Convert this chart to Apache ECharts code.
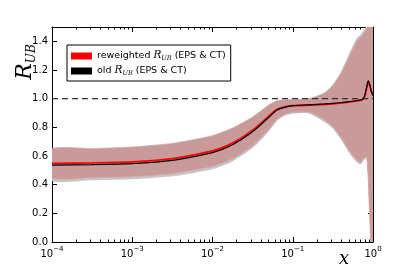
<!DOCTYPE html>
<html>
<head>
<meta charset="utf-8">
<script src="https://cdn.jsdelivr.net/npm/echarts@6/dist/echarts.min.js"></script>
<style>html,body{margin:0;padding:0;background:#fff;}#c{width:415px;height:277px;}</style>
</head>
<body>
<div id="c"></div>
<script>
// x positions (values of x on log axis)
const xVals = [1e-4, 3.162e-4, 1e-3, 3.162e-3, 1e-2, 1.778e-2, 3.162e-2, 5.012e-2, 6.310e-2, 7.943e-2,
  0.1, 0.1585, 0.2512, 0.3162, 0.3981, 0.5012, 0.6310, 0.7079, 0.7586, 0.7943, 0.8318, 0.8710, 0.9120, 0.9550, 1.0];
// old R_UB (black) central
const oldCentral = [0.537, 0.540, 0.547, 0.569, 0.624, 0.679, 0.769, 0.869, 0.919, 0.939,
  0.951, 0.957, 0.963, 0.967, 0.973, 0.979, 0.987, 0.992, 1.000, 1.030, 1.080, 1.125, 1.100, 1.050, 1.020];
// reweighted R_UB (red) central
const rewCentral = [0.549, 0.552, 0.559, 0.581, 0.635, 0.690, 0.779, 0.877, 0.924, 0.942,
  0.951, 0.955, 0.960, 0.964, 0.970, 0.976, 0.985, 0.990, 0.996, 1.020, 1.070, 1.115, 1.090, 1.050, 1.030];
// reweighted band
const rewUpper = [0.648, 0.652, 0.663, 0.688, 0.742, 0.795, 0.872, 0.955, 0.985, 0.992,
  0.995, 1.000, 1.040, 1.090, 1.175, 1.290, 1.405, 1.430, 1.455, 1.470, 1.490, 1.520, 1.650, 1.800, 2.000];
const rewLower = [0.447, 0.449, 0.456, 0.477, 0.527, 0.580, 0.672, 0.785, 0.855, 0.890,
  0.905, 0.905, 0.850, 0.805, 0.730, 0.640, 0.570, 0.555, 0.580, 0.590, 0.595, 0.450, 0.150, -0.100, -0.400];
// old band
const oldUpper = [0.645, 0.649, 0.660, 0.685, 0.738, 0.790, 0.868, 0.950, 0.980, 0.990,
  0.993, 0.998, 1.045, 1.100, 1.190, 1.310, 1.425, 1.450, 1.475, 1.490, 1.510, 1.540, 1.650, 1.800, 2.000];
const oldLower = [0.428, 0.430, 0.437, 0.458, 0.508, 0.562, 0.655, 0.770, 0.843, 0.880,
  0.895, 0.897, 0.835, 0.790, 0.715, 0.625, 0.555, 0.542, 0.566, 0.578, 0.585, 0.440, 0.140, -0.100, -0.400];
// ticks
const xMajorTicks = [1e-4, 1e-3, 1e-2, 1e-1, 1];
const xMinorTicks = [];
[1e-4, 1e-3, 1e-2, 1e-1].forEach(d => { for (let k = 2; k <= 9; k++) xMinorTicks.push(+(d * k).toPrecision(3)); });
const yMin = 0, yMax = 1.5, yStep = 0.2;

const pairs = arr => arr.map((v, i) => [xVals[i], v]);

const chart = echarts.init(document.getElementById('c'), null, {renderer: 'canvas'});
const font = 'DejaVu Sans';
const serif = 'DejaVu Serif';

function bandSeries(name, upper, lower, fill, edge, z) {
  return {
    name: name, type: 'custom', clip: true, silent: true, z: z,
    data: [[xVals[0], lower[0]]],
    encode: {x: 0, y: 1},
    renderItem: (params, api) => {
      const pts = [];
      for (let i = 0; i < xVals.length; i++) pts.push(api.coord([xVals[i], upper[i]]));
      for (let i = xVals.length - 1; i >= 0; i--) pts.push(api.coord([xVals[i], lower[i]]));
      return {type: 'polygon', shape: {points: pts, smooth: 0.2},
        style: {fill: fill, stroke: edge, lineWidth: edge ? 0.8 : 0}};
    }
  };
}

function xAxisCommon(pos, major) {
  return {
    type: 'log', logBase: 10, min: 1e-4, max: 1, position: pos, gridIndex: 0,
    axisLine: {show: major, lineStyle: {color: '#000', width: 1}},
    axisTick: {show: true, inside: true, length: major ? 5 : 2.5,
      lineStyle: {color: '#000', width: 1}, customValues: major ? xMajorTicks : xMinorTicks},
    axisLabel: {show: false},
    splitLine: {show: false}, minorTick: {show: false}
  };
}
const xMain = xAxisCommon('bottom', true);
xMain.axisLabel = {
  show: true, customValues: xMajorTicks, margin: 4, color: '#000',
  formatter: v => {
    const e = Math.round(Math.log10(v));
    return '{b|10}{s|' + (e < 0 ? '\u2212' + (-e) : e) + '}';
  },
  rich: {
    b: {fontFamily: font, fontSize: 10, color: '#000', lineHeight: 13, verticalAlign: 'bottom'},
    s: {fontFamily: font, fontSize: 7, color: '#000', verticalAlign: 'top'}
  }
};

const option = {
  animation: false,
  backgroundColor: '#fff',
  grid: {left: 52, right: 42, top: 27, bottom: 35, containLabel: false},
  xAxis: [xMain, xAxisCommon('bottom', false), xAxisCommon('top', true), xAxisCommon('top', false)],
  yAxis: [
    {type: 'value', min: yMin, max: yMax, interval: yStep, position: 'left',
      axisLine: {show: true, lineStyle: {color: '#000', width: 1}},
      axisTick: {show: true, inside: true, length: 5, lineStyle: {color: '#000'}},
      axisLabel: {color: '#000', fontFamily: font, fontSize: 10, margin: 4,
        formatter: v => (v > yMax - 0.05 ? '' : v.toFixed(1))},
      splitLine: {show: false}},
    {type: 'value', min: yMin, max: yMax, interval: yStep, position: 'right',
      axisLine: {show: true, lineStyle: {color: '#000', width: 1}},
      axisTick: {show: true, inside: true, length: 5, lineStyle: {color: '#000'}},
      axisLabel: {show: false}, splitLine: {show: false}}
  ],
  legend: {
    left: 67, top: 45, orient: 'vertical', icon: 'rect', itemWidth: 21, itemHeight: 7, itemGap: 3,
    padding: [5, 5, 4, 4], borderColor: '#000', borderWidth: 1, backgroundColor: '#fff',
    data: ['rew', 'old'],
    formatter: n => (n === 'rew' ? 'reweighted ' : 'old ') + '{i|R}{s|UB}' + ' (EPS & CT)',
    textStyle: {fontFamily: font, fontSize: 9.5, color: '#000',
      rich: {
        i: {fontFamily: serif, fontStyle: 'italic', fontSize: 10.5, color: '#000', verticalAlign: 'top', lineHeight: 12},
        s: {fontFamily: serif, fontStyle: 'italic', fontSize: 6.5, color: '#000', verticalAlign: 'bottom'}
      }}
  },
  series: [
    bandSeries('oldBand', oldUpper, oldLower, '#c6c6c6', null, 1),
    bandSeries('rewBand', rewUpper, rewLower, '#c99a9a', '#d6a9a9', 2),
    {name: 'unity', type: 'line', data: [[1e-4, 1], [1, 1]], symbol: 'none',
      lineStyle: {color: '#333', width: 1.2, type: [6, 4]}, silent: true, z: 3},
    {name: 'rew', type: 'line', data: pairs(rewCentral), symbol: 'none', color: '#ff0000', smooth: 0.2,
      lineStyle: {color: '#ff0000', width: 1.8}, z: 4},
    {name: 'old', type: 'line', data: pairs(oldCentral), symbol: 'none', color: '#000000', smooth: 0.2,
      lineStyle: {color: '#000000', width: 1.2}, z: 5}
  ],
  graphic: [
    {type: 'text', x: 14, y: 62, rotation: Math.PI / 2, z: 10,
      style: {text: '{r|R}{s|UB}', align: 'center', verticalAlign: 'top',
        rich: {
          r: {fontFamily: serif, fontStyle: 'italic', fontSize: 22, fill: '#000', lineHeight: 24, verticalAlign: 'top'},
          s: {fontFamily: serif, fontStyle: 'italic', fontSize: 12, fill: '#000', verticalAlign: 'bottom'}
        }}},
    {type: 'text', x: 344, y: 259, z: 10,
      style: {text: 'x', fontFamily: serif, fontStyle: 'italic', fontSize: 18, fill: '#000',
        align: 'center', verticalAlign: 'middle'}}
  ]
};
chart.setOption(option);
</script>
</body>
</html>
